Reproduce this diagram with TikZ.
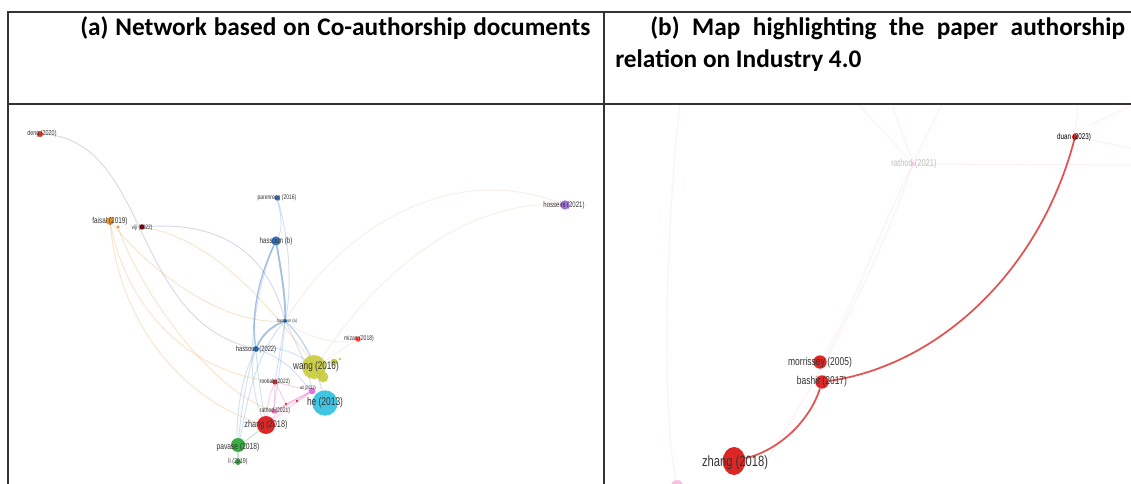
\documentclass[tikz,border=0pt]{standalone}
\usepackage{fontspec}
\setmainfont{Carlito}
\newfontfamily\lblfont[FakeStretch=0.75]{Liberation Sans}
\usetikzlibrary{shapes.geometric}
\definecolor{cwang}{RGB}{200,204,62}
\definecolor{che}{RGB}{64,198,226}
\definecolor{czh}{RGB}{222,38,38}
\definecolor{cgn}{RGB}{58,172,68}
\definecolor{cbl}{RGB}{52,120,196}
\definecolor{cor}{RGB}{232,150,50}
\definecolor{cpu}{RGB}{160,112,216}
\begin{document}
\begin{tikzpicture}[x=0.75pt,y=-0.75pt,
  frame/.style={draw=black!80,line width=1.4pt},
  hdr/.style={font=\bfseries\fontsize{19}{21}\selectfont,inner sep=0pt,text=black},
  dot/.style={circle,inner sep=0pt,draw=none,fill=#1},
  lbl/.style={inner sep=0pt,text=black!80,font=\lblfont\fontsize{#1}{#1}\selectfont},
  bl/.style={draw=cbl,draw opacity=.45,line width=1.4pt},
  blt/.style={draw=cbl,draw opacity=.22,line width=.7pt},
  gr/.style={draw=black!50!blue!60,draw opacity=.25,line width=.7pt},
  ogl/.style={draw=cor,draw opacity=.25,line width=.7pt},
  pk/.style={draw=magenta!70,draw opacity=.28,line width=.7pt},
  gn/.style={draw=cgn,draw opacity=.3,line width=.7pt},
  fnt/.style={draw=black!30!orange!30,draw opacity=.35,line width=.6pt},
  fpk/.style={draw=magenta!40,draw opacity=.14,line width=.8pt},
  redl/.style={draw=czh,draw opacity=.8,line width=1.3pt}]
\useasboundingbox (0,0) rectangle (1131,484);
\fill[white] (0,0) rectangle (1131,484);
% ---------------- table frame
\coordinate (tl) at (8,12); \coordinate (tr) at (1131,12);
\coordinate (ml) at (8,104); \coordinate (mr) at (1131,104);
\coordinate (bl) at (8,484); \coordinate (mt) at (604,12); \coordinate (mb) at (604,484);
% ---------------- headers
\node[hdr,anchor=base west] (ha1) at (80,36) {\makebox[382.5pt][s]{(a) Network based on Co-authorship documents}};
\node[hdr,anchor=base west] (hb1) at (650,36) {\makebox[356pt][s]{(b) Map highlighting the paper authorship}};
\node[hdr,anchor=base west] (hb2) at (615,68) {relation on Industry 4.0};
% ================= panel (a)
\begin{scope}
\clip (9,105) rectangle (603,484);
% circles
\node[dot=red!55!brown,minimum size=4.5pt] (deng) at (40,134) {};
\node[dot=cor,minimum size=6pt] (fais) at (110,221) {};
\node[dot=cor,minimum size=2.5pt] (fs1) at (118,227) {};
\node[dot=red!50!black,minimum size=4pt] (viji) at (142,227) {};
\node[dot=cbl,minimum size=4pt] (pare) at (277,198) {};
\node[dot=cbl,minimum size=7pt] (hb) at (276,241) {};
\node[dot=cbl,minimum size=3pt] (ha) at (285,321) {};
\node[dot=cbl,minimum size=4.5pt] (h22) at (256,349) {};
\node[dot=red!75,minimum size=4pt] (miz) at (358,339) {};
\node[dot=czh,minimum size=4pt] (roob) at (275,382) {};
\node[dot=violet!45!magenta!55,minimum size=5pt] (ali) at (312,391) {};
\node[dot=czh,minimum size=2.2pt] (rd1) at (286,404) {};
\node[dot=czh,minimum size=2.2pt] (rd2) at (297,401) {};
\node[dot=magenta!60!violet!60,minimum size=4pt] (rath) at (274,411) {};
\node[dot=cpu,minimum size=7pt] (hoss) at (565,205) {};
% edges (below the big circles)
\draw[blt] (pare) .. controls (281,215) and (283,228) .. (hb);
\draw[blt] (pare) .. controls (290,240) and (292,290) .. (ha);
\draw[bl] (hb) .. controls (281,270) and (286,300) .. (ha);
\draw[bl,line width=1pt] (hb) .. controls (262,270) and (250,310) .. (h22);
\draw[blt] (hb) .. controls (255,290) and (240,380) .. (266,425);
\draw[bl] (ha) .. controls (272,326) and (262,335) .. (h22);
\draw[blt] (ha) .. controls (300,335) and (308,350) .. (316,367);
\draw[blt] (ha) .. controls (300,350) and (308,370) .. (ali);
\draw[blt] (ha) -- (roob);
\draw[blt] (ha) .. controls (282,360) and (276,390) .. (rath);
\draw[blt] (ha) .. controls (310,345) and (320,380) .. (325,403);
\draw[blt] (ha) .. controls (250,360) and (245,420) .. (238,447);
\draw[blt] (h22) .. controls (258,380) and (262,400) .. (266,425);
\draw[blt] (h22) .. controls (245,380) and (240,420) .. (238,447);
\draw[blt] (h22) .. controls (235,390) and (236,440) .. (238,462);
\draw[blt] (h22) .. controls (290,360) and (300,380) .. (ali);
\draw[blt] (h22) .. controls (280,345) and (300,355) .. (316,367);
\draw[gr] (deng) .. controls (150,140) and (130,320) .. (h22);
\draw[gr] (viji) .. controls (230,220) and (270,262) .. (ha);
\draw[ogl] (viji) .. controls (220,240) and (280,320) .. (316,367);
\draw[ogl] (fais) .. controls (150,270) and (220,325) .. (ha);
\draw[ogl] (fais) .. controls (125,300) and (180,370) .. (roob);
\draw[ogl] (fais) .. controls (120,330) and (190,405) .. (266,425);
\draw[ogl] (fs1) .. controls (140,290) and (210,390) .. (rath);
\draw[fnt] (hoss) .. controls (450,160) and (340,230) .. (ha);
\draw[fnt] (hoss) .. controls (460,200) and (370,280) .. (316,367);
\draw[fnt] (miz) .. controls (340,345) and (310,340) .. (ha);
\draw[fnt] (miz) -- (316,367);
\draw[pk] (roob) -- (rath);
\draw[pk] (roob) -- (ali);
\draw[pk] (rath) -- (ali);
\draw[pk] (roob) -- (rd1);
\draw[pk] (rd1) -- (ali);
\draw[pk] (rd2) -- (ali);
\draw[pk] (rath) -- (rd2);
\draw[pk] (266,425) -- (ali);
\draw[pk] (266,425) -- (rd1);
\draw[pk] (roob) .. controls (268,400) .. (266,425);
\draw[gn] (238,447) -- (266,425);
\draw[gn] (238,447) -- (238,462);
\draw[fnt] (316,367) -- (325,403);
% large circles
\node[dot=cwang,opacity=.92,minimum size=18pt] (wang) at (314,367) {};
\node[dot=cwang,opacity=.92,minimum size=8pt] (wang2) at (323,377) {};
\node[dot=cwang,minimum size=5pt] (wang3) at (334,362) {};
\node[dot=cwang,minimum size=2pt] (wang4) at (340,359) {};
\node[dot=che,minimum size=19pt] (he) at (325,403) {};
\node[dot=czh,minimum size=13.5pt] (zh) at (266,425) {};
\node[dot=cgn,minimum size=10.5pt] (pav) at (238,445) {};
\node[dot=cgn,minimum size=4.5pt] (li) at (238,462) {};
% labels
\node[lbl=5.4] (ldeng) at (42,134) {deng (2020)};
\node[lbl=6.4] (lfais) at (110,221) {faisal (2019)};
\node[lbl=4.8] (lviji) at (142,228) {viji (2022)};
\node[lbl=5] (lpare) at (277,198) {parenreng (2016)};
\node[lbl=6.2] (lhb) at (276,241) {hassoun (b)};
\node[lbl=3.8] (lha) at (287,321) {hassoun (a)};
\node[lbl=5.8] (lh22) at (256,349) {hassoun (2022)};
\node[lbl=5.1] (lmiz) at (359,339) {mizan (2018)};
\node[lbl=8.2] (lwang) at (316,367) {wang (2016)};
\node[lbl=4.8] (lroob) at (275,382) {roobab (2022)};
\node[lbl=3.8] (lali) at (308,388) {ali (2022)};
\node[lbl=8.4] (lhe) at (325,403) {he (2013)};
\node[lbl=5] (lrath) at (275,411) {rathod (2021)};
\node[lbl=7.3] (lzh) at (266,425) {zhang (2018)};
\node[lbl=6.7] (lpav) at (238,447) {pavase (2018)};
\node[lbl=5.3] (lli) at (238,462) {li (2019)};
\node[lbl=6] (lhoss) at (564,205) {hosseini (2021)};
\end{scope}
% ================= panel (b)
\begin{scope}
\clip (605,105) rectangle (1131,484);
\coordinate (t1) at (680,104);
\coordinate (t2) at (858,104);
\coordinate (t3) at (892,104);
\coordinate (t4) at (942,104);
\coordinate (t5) at (1078,104);
\coordinate (e1) at (1131,165);
\coordinate (e2) at (1131,148);
\coordinate (e3) at (1131,106);
\node[dot=magenta!25,minimum size=9pt] (pkb) at (677,486) {};
\node[dot=magenta!40,opacity=.5,minimum size=3pt] (rb) at (913,164) {};
\draw[fpk] (pkb) .. controls (660,400) and (668,200) .. (t1);
\draw[fpk] (t2) -- (rb);
\draw[fpk] (t3) -- (rb);
\draw[fpk] (t4) -- (rb);
\draw[fpk] (rb) .. controls (880,260) and (820,380) .. (760,470);
\draw[fpk] (rb) .. controls (870,250) and (850,320) .. (818,365);
\draw[fpk] (rb) -- (e1);
\draw[fpk] (t5) -- (1075,137);
\node[dot=czh,minimum size=4.5pt] (duan) at (1075,137) {};
\draw[fpk] (duan) -- (e2);
\draw[fpk] (1090,125) -- (e3);
\node[dot=czh,minimum size=10pt] (mor) at (820,362) {};
\node[dot=czh,minimum size=10pt] (bas) at (822,382) {};
\node[dot=czh,ellipse,minimum width=17pt,minimum height=21pt] (zhb) at (734,461) {};
\draw[redl] (duan) .. controls (1040,270) and (940,365) .. (bas);
\draw[redl] (bas) .. controls (810,420) and (780,450) .. (zhb);
\node[lbl=7.5,text=black!25] (lrb) at (914,164) {rathod (2021)};
\node[lbl=6.3,text=black] (lduan) at (1074,137) {duan (2023)};
\node[lbl=8.5] (lmor) at (820,363) {morrissey (2005)};
\node[lbl=8.5] (lbas) at (822,382) {bashir (2017)};
\node[lbl=11.2] (lzhb) at (735,463) {zhang (2018)};
\end{scope}
\draw[frame] (tr) -- (tl) -- (bl);
\draw[frame] (ml) -- (mr);
\draw[frame] (mt) -- (mb);
\end{tikzpicture}
\end{document}
